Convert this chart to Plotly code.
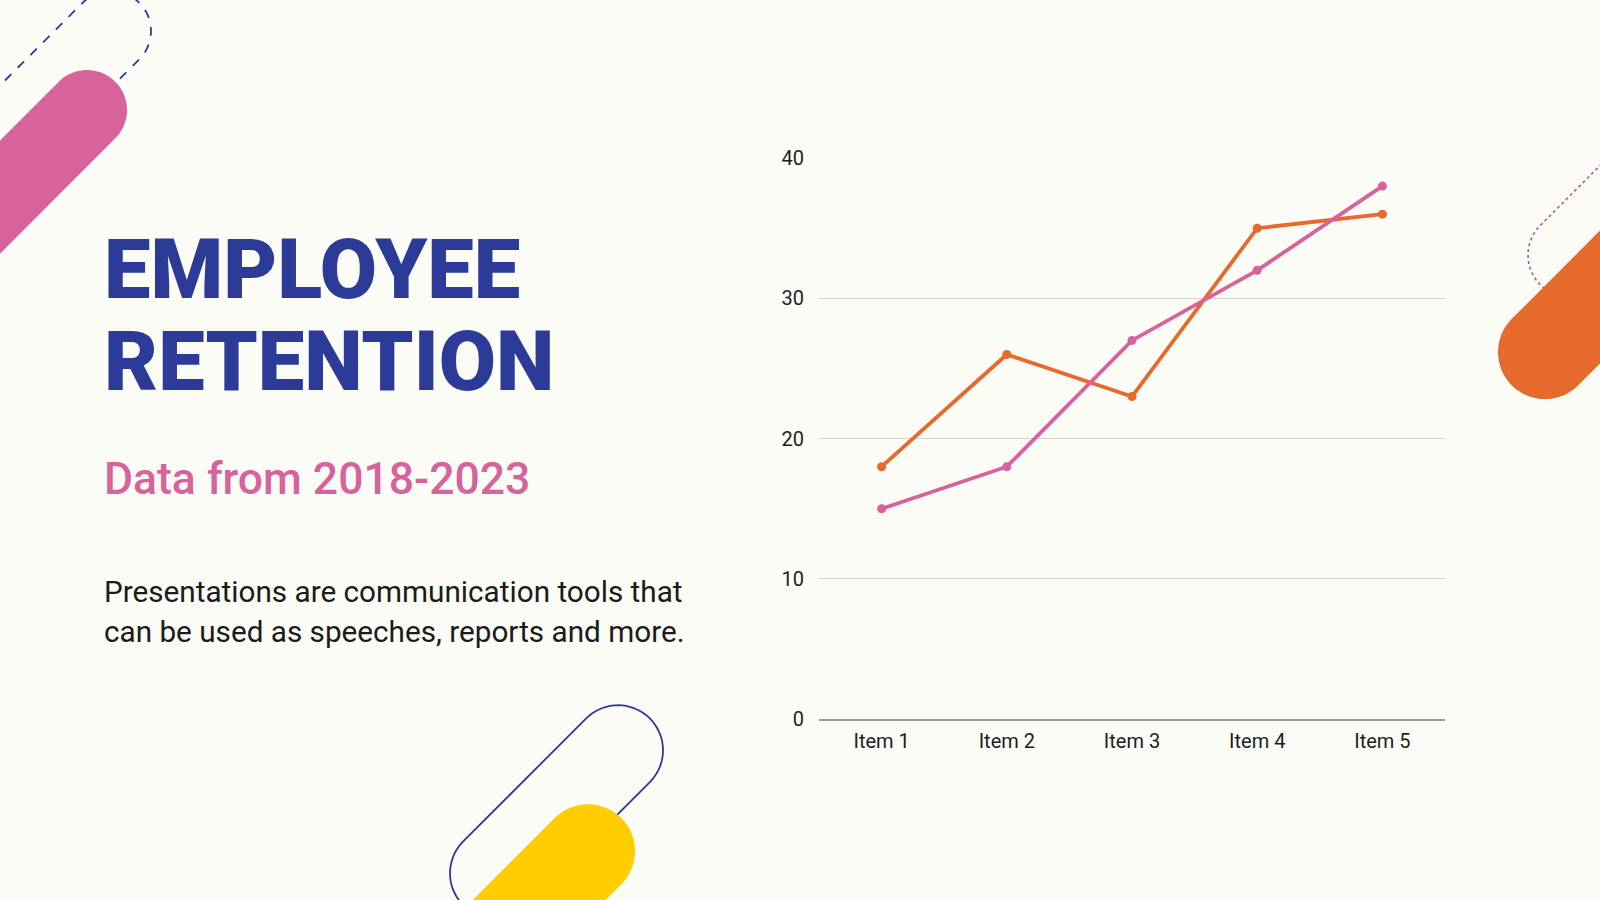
import numpy as np
import plotly.graph_objects as go

# ---------- data ----------
items = ["Item 1", "Item 2", "Item 3", "Item 4", "Item 5"]
series_orange = [18, 26, 23, 35, 36]
series_pink = [15, 18, 27, 32, 38]
y_ticks = [0, 10, 20, 30, 40]

title_lines = ["EMPLOYEE", "RETENTION"]
subtitle = "Data from 2018-2023"
body_lines = ["Presentations are communication tools that",
              "can be used as speeches, reports and more."]

W, H = 1600, 900
BG = "#FCFCF7"
NAVY = "#2B3B97"
PINK = "#D8629C"
ORANGE = "#E56A2C"
YELLOW = "#FFCD00"

# the captured page comes out slightly squeezed vertically; lay things out
# in picture pixels and convert
SQ, OFF = 0.973, 12.0


def iy(y):
    return (y - OFF) / SQ


def px(x, y):
    # picture pixel position -> paper coords (margins are zero)
    return x / W, 1 - iy(y) / H


def pill_path(c1, c2, r, n=40):
    # stadium shape between two cap centres
    c1, c2 = np.array(c1, float), np.array(c2, float)
    d = c2 - c1
    ang = np.arctan2(d[1], d[0])
    pts = []
    for t in np.linspace(ang + np.pi / 2, ang + 3 * np.pi / 2, n):
        pts.append(c1 + r * np.array([np.cos(t), np.sin(t)]))
    for t in np.linspace(ang - np.pi / 2, ang + np.pi / 2, n):
        pts.append(c2 + r * np.array([np.cos(t), np.sin(t)]))
    s = ""
    for i, p in enumerate(pts):
        x, y = px(*p)
        s += ("M" if i == 0 else "L") + f"{x:.5f},{y:.5f} "
    return s + "Z"


def down_left(c, length):
    return (c[0] - length, c[1] + length)


def up_right(c, length):
    return (c[0] + length, c[1] - length)


fig = go.Figure()

fig.add_trace(go.Scatter(x=items, y=series_orange, mode="lines+markers",
                         line=dict(color=ORANGE, width=3.8),
                         marker=dict(color=ORANGE, size=9)))
fig.add_trace(go.Scatter(x=items, y=series_pink, mode="lines+markers",
                         line=dict(color=PINK, width=3.8),
                         marker=dict(color=PINK, size=9)))

# ---------- decorations ----------
shapes = []
# top-left dashed outline + pink pill
c = (111, 31)
shapes.append(dict(type="path", xref="paper", yref="paper", path=pill_path(c, down_left(c, 300), 40),
                   line=dict(color=NAVY, width=1.8, dash="dash"), fillcolor="rgba(0,0,0,0)"))
c = (87, 110)
shapes.append(dict(type="path", xref="paper", yref="paper", path=pill_path(c, down_left(c, 300), 40),
                   line=dict(width=0), fillcolor=PINK))
# right dotted outline + orange pill
c = (1570, 255)
shapes.append(dict(type="path", xref="paper", yref="paper", path=pill_path(c, up_right(c, 300), 42),
                   line=dict(color="#C0509A", width=1.6, dash="dot"), fillcolor="rgba(0,0,0,0)"))
c = (1545, 352)
shapes.append(dict(type="path", xref="paper", yref="paper", path=pill_path(c, up_right(c, 300), 47),
                   line=dict(width=0), fillcolor=ORANGE))
# bottom navy outline + yellow pill
shapes.append(dict(type="path", xref="paper", yref="paper", path=pill_path((618, 750), (495, 873), 45),
                   line=dict(color=NAVY, width=1.8), fillcolor="rgba(0,0,0,0)"))
c = (588, 851)
shapes.append(dict(type="path", xref="paper", yref="paper", path=pill_path(c, down_left(c, 300), 47),
                   line=dict(width=0), fillcolor=YELLOW))

# ---------- text ----------
annotations = []
for txt, yc in zip(title_lines, [269, 361]):
    x, y = px(102, yc)
    annotations.append(dict(text=txt, x=x, y=y, xref="paper", yref="paper", xanchor="left", yanchor="middle",
                            showarrow=False, font=dict(family="Roboto", size=83, color=NAVY, weight=900)))
x, y = px(102, 479)
annotations.append(dict(text=subtitle, x=x, y=y, xref="paper", yref="paper", xanchor="left", yanchor="middle",
                        showarrow=False, font=dict(family="Roboto", size=44.5, color=PINK, weight=500)))
for txt, yc in zip(body_lines, [591, 631]):
    x, y = px(102, yc)
    annotations.append(dict(text=txt, x=x, y=y, xref="paper", yref="paper", xanchor="left", yanchor="middle",
                            showarrow=False, font=dict(family="Roboto", size=29.7, color="#1B1B1B")))

fig.update_layout(
    width=W, height=H,
    margin=dict(l=0, r=0, t=0, b=0),
    paper_bgcolor=BG, plot_bgcolor="rgba(0,0,0,0)",
    showlegend=False,
    shapes=shapes,
    annotations=annotations,
    font=dict(family="Roboto", color="#222222", size=20),
    xaxis=dict(domain=[819 / W, 1445 / W], range=[-0.5, 4.5], showgrid=False, zeroline=False,
               showline=True, linecolor="#9A9A9A", linewidth=1.5, ticks="",
               tickfont=dict(size=20, color="#1E1E1E"), ticklabelstandoff=3),
    yaxis=dict(domain=[1 - iy(719) / H, 1 - iy(158) / H], range=[0, 40], tickvals=y_ticks,
               showgrid=True, gridcolor="#D3D3D3", gridwidth=1, zeroline=False, showline=False,
               tickfont=dict(size=20, color="#1E1E1E"), ticklabelstandoff=14),
)

# page body margin off so the figure fills the window exactly
fig.write_html("out.html", config={"displayModeBar": False},
               post_script="document.body.style.margin='0px';")
